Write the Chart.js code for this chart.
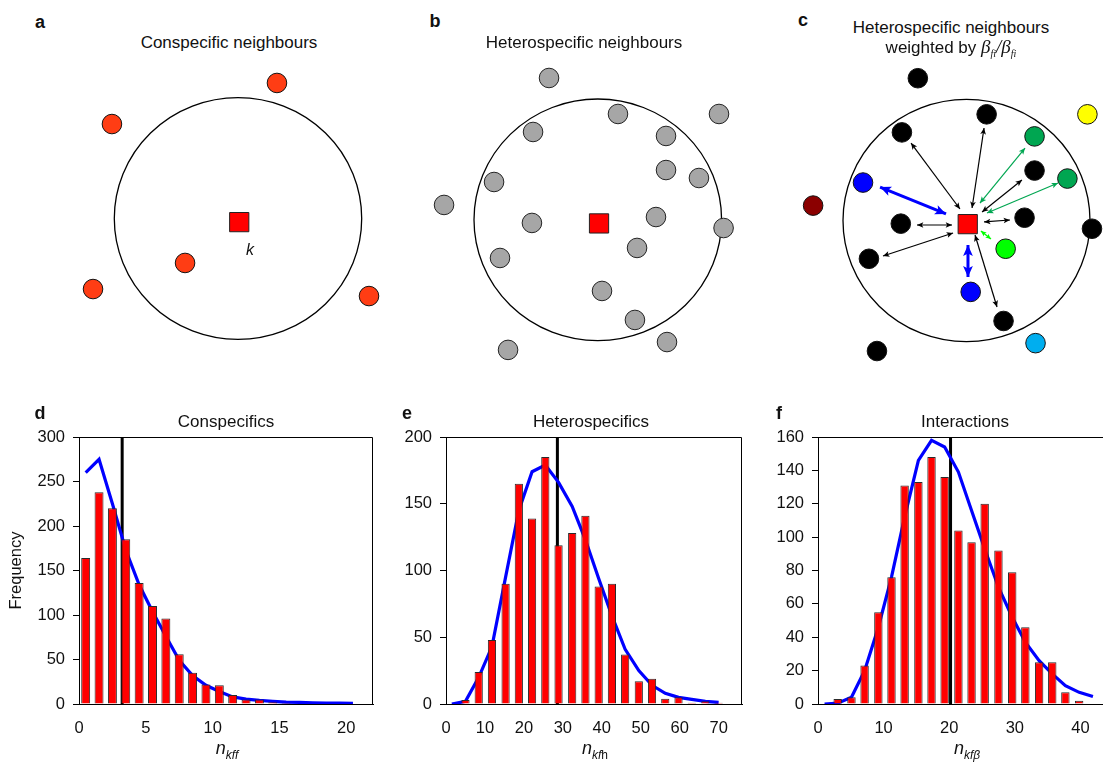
<!DOCTYPE html>
<html>
<head>
<meta charset="utf-8">
<script src="https://cdn.jsdelivr.net/npm/chart.js@4.4.1/dist/chart.umd.min.js"></script>
<style>
html,body{margin:0;padding:0;background:#fff;overflow:hidden;}
body{width:1103px;height:764px;position:relative;font-family:"Liberation Sans",Arial,sans-serif;color:#111;}
canvas{position:absolute;}
.t{position:absolute;transform:translate(-50%,-50%);white-space:nowrap;font-size:17px;line-height:1;}
.lt{position:absolute;transform:translate(-50%,-50%);font-weight:bold;font-size:18px;line-height:1;}
.ax{position:absolute;transform:translate(-50%,-50%);white-space:nowrap;font-size:18px;line-height:1;}
.ax sub{font-size:12px;vertical-align:-5px;}
.beta{font-family:"Liberation Serif","DejaVu Serif",serif;font-style:italic;font-size:19px;}
.beta sub{font-size:10px;vertical-align:-4px;}
</style>
</head>
<body>
<canvas id="pa" width="420" height="310" style="left:0;top:60px"></canvas>
<canvas id="pb" width="400" height="310" style="left:360px;top:60px"></canvas>
<canvas id="pc" width="379" height="310" style="left:724px;top:60px"></canvas>
<canvas id="pd" width="376" height="364" style="left:0;top:400px"></canvas>
<canvas id="pe" width="368" height="364" style="left:376px;top:400px"></canvas>
<canvas id="pf" width="368" height="364" style="left:744px;top:400px"></canvas>

<div class="lt" style="left:40px;top:22px">a</div>
<div class="lt" style="left:435px;top:21px">b</div>
<div class="lt" style="left:803px;top:20px">c</div>
<div class="lt" style="left:40px;top:413px">d</div>
<div class="lt" style="left:407px;top:413px">e</div>
<div class="lt" style="left:779px;top:413px">f</div>

<div class="t" style="left:229px;top:42px">Conspecific neighbours</div>
<div class="t" style="left:584px;top:42px">Heterospecific neighbours</div>
<div class="t" style="left:951px;top:27px">Heterospecific neighbours</div>
<div class="t" style="left:951px;top:48px">weighted by <span class="beta">β<sub>fi</sub>/β<sub>fi</sub></span></div>
<div class="t" style="left:250px;top:250px;font-style:italic;font-size:16px">k</div>

<div class="t" style="left:226px;top:421px">Conspecifics</div>
<div class="t" style="left:591px;top:421px">Heterospecifics</div>
<div class="t" style="left:965px;top:421px">Interactions</div>

<div class="ax" style="left:227px;top:750px"><i>n</i><sub><i>kff</i></sub></div>
<div class="ax" style="left:595px;top:750px"><i>n</i><sub><i>kf</i>h</sub></div>
<div class="ax" style="left:967px;top:750px"><i>n</i><sub><i>kfβ</i></sub></div>

<script>
// ---- neighbourhood diagrams (units: neighbourhood radius = 10) ----
const ringR = 10;
const focalX = [0.1];
const focalY = [-0.3];
// a: conspecific neighbours
const conX = [3.15, -10.19, -4.28, -11.72, 10.59];
const conY = [11.22, 7.82, -3.68, -5.84, -6.42];
// b, c: heterospecific neighbours (same trees, c coloured by species)
const hetX = [-3.94, 1.63, 9.79, -5.23, 5.51, 5.51, 8.17, -8.38, -12.42, -5.32, 4.70, 10.16, 3.17, -7.90, 0.34, 3.00, 5.59, -7.25];
const hetY = [11.74, 8.76, 8.76, 7.27, 6.94, 4.12, 3.46, 3.13, 1.23, -0.26, 0.23, -0.68, -2.33, -3.16, -5.89, -8.29, -10.12, -10.77];
const hetSpecies = ['k','k','y','k','g','k','g','b','r','k','k','k','l','k','b','k','c','k'];
// c: interaction arrows (ends)
const arrX1 = [-4.49, 1.42, 4.49, -4.01, -6.76, 1.42, 0.69, 1.09, 1.66, 1.17, -7.00, 0.12];
const arrY1 = [6.39, 7.63, 3.34, -0.37, -2.93, -0.12, -1.20, 1.44, 0.62, -0.87, 2.76, -2.02];
const arrX2 = [-0.53, 0.45, 1.26, -1.17, -1.09, 3.52, 2.47, 4.74, 7.41, 1.98, -1.66, 0.12];
const arrY2 = [0.95, 1.03, 0.70, -0.37, -1.03, 0.04, -7.14, 5.98, 3.09, -1.53, 0.54, -4.66];
const arrKind = ['k','k','k','k','k','k','k','g','g','l','b','b'];

// ---- histograms ----
const dBins = [0.5,1.5,2.5,3.5,4.5,5.5,6.5,7.5,8.5,9.5,10.5,11.5,12.5,13.5,14.5,15.5];
const dFreq = [164,238,220,185,136,110,96,56,35,22,21,10,5,5,2,1];
const dFitX = [0.5,1.5,2.5,3.5,4.5,5.5,6.5,7.5,8.5,9.5,10.5,11.5,12.5,13.5,14.5,15.5,16.5,17.5,18.5,19.5,20.5];
const dFit = [260,275,225,173,134,104,76,49,32,21,14,8,5.5,4,3,2.2,1.8,1.4,1.1,0.9,0.7];
const dMean = 3.23;

const eBins = [5.0,8.4,11.8,15.3,18.7,22.1,25.5,28.9,32.4,35.8,39.2,42.6,46.0,49.5,52.9,56.3,59.7,63.1,66.6,70.0];
const eFreq = [3,24,48,90,165,139,185,119,128,141,88,90,37,17,19,4,5,1,2,1];
const eFitX = [1.5,5.0,8.4,11.8,15.3,18.7,22.1,25.5,28.9,32.4,35.8,39.2,42.6,46.0,49.5,52.9,56.3,59.7,63.1,66.6,70.0];
const eFit = [0,2,20,43,95,145,174,179,166,148,123,94,66,41,25,14,8,5,3.5,2,1.2];
const eMean = 28.6;

const fBins = [3.0,5.1,7.1,9.2,11.2,13.2,15.3,17.3,19.3,21.4,23.4,25.4,27.5,29.6,31.6,33.7,35.7,37.7,39.8];
const fFreq = [3,4,23,55,76,131,133,148,136,104,97,120,92,79,46,25,25,7,2];
const fFitX = [1.0,3.0,5.1,7.1,9.2,11.2,13.2,15.3,17.3,19.3,21.4,23.4,25.4,27.5,29.6,31.6,33.7,35.7,37.7,39.8,41.9];
const fFit = [0,0.5,4,20,46,76,112,146,158,154,139,116,93,70,52,37,26,18,11,7,4.5];
const fMean = 20.2;

const speciesColor = {k:'#000000', y:'#ffff00', g:'#00a651', b:'#0000ff', r:'#8b0000', l:'#00ff00', c:'#00aeef'};
const arrowStyle = {
  k:{color:'#000000', width:1.2, head:7},
  g:{color:'#00a651', width:1.2, head:7},
  l:{color:'#00ff00', width:1.4, head:6},
  b:{color:'#0000ff', width:3, head:12}
};

const font = {family:'"Liberation Sans", Arial, sans-serif', size:16.5};

const ring = {
  id:'ring',
  beforeDatasetsDraw(c){
    const x = c.scales.x, y = c.scales.y, ctx = c.ctx;
    const cx = x.getPixelForValue(0), cy = y.getPixelForValue(0);
    const rx = x.getPixelForValue(ringR) - cx, ry = cy - y.getPixelForValue(ringR);
    ctx.save();
    ctx.strokeStyle = '#000'; ctx.lineWidth = 1.3;
    ctx.beginPath(); ctx.ellipse(cx, cy, rx, ry, 0, 0, Math.PI*2); ctx.stroke();
    ctx.restore();
  }
};

function head(ctx, fx, fy, tx, ty, s, col){
  const ang = Math.atan2(ty - fy, tx - fx);
  ctx.beginPath();
  ctx.moveTo(tx, ty);
  ctx.lineTo(tx - s*Math.cos(ang - 0.42), ty - s*Math.sin(ang - 0.42));
  ctx.lineTo(tx - s*0.7*Math.cos(ang), ty - s*0.7*Math.sin(ang));
  ctx.lineTo(tx - s*Math.cos(ang + 0.42), ty - s*Math.sin(ang + 0.42));
  ctx.closePath();
  ctx.fillStyle = col; ctx.fill();
}
const arrowHeads = {
  id:'arrowHeads',
  afterDatasetsDraw(c){
    const ctx = c.ctx;
    c.data.datasets.forEach((ds, i) => {
      if(!ds.headSize) return;
      const p = c.getDatasetMeta(i).data;
      ctx.save();
      head(ctx, p[1].x, p[1].y, p[0].x, p[0].y, ds.headSize, ds.borderColor);
      head(ctx, p[0].x, p[0].y, p[1].x, p[1].y, ds.headSize, ds.borderColor);
      ctx.restore();
    });
  }
};

// geometry of each diagram on the page: ring centre (canvas px) and ring radii (px)
function diagram(id, g, datasets, plugins){
  const sx = g.rx / ringR, sy = g.ry / ringR;
  return new Chart(document.getElementById(id), {
    type:'scatter',
    data:{datasets},
    options:{
      responsive:false, animation:false,
      layout:{padding:0, autoPadding:false},
      plugins:{legend:{display:false}, tooltip:{enabled:false}},
      scales:{
        x:{display:false, min:-g.cx/sx, max:(g.w - g.cx)/sx},
        y:{display:false, min:-(g.h - g.cy)/sy, max:g.cy/sy}
      }
    },
    plugins:[ring].concat(plugins || [])
  });
}
function pts(xs, ys){ return xs.map((x, i) => ({x, y:ys[i]})); }
function focalSet(){
  return {data:pts(focalX, focalY), pointStyle:'rect', pointRadius:13.6, backgroundColor:'#ff0000', borderColor:'#222', borderWidth:1, clip:false, order:0};
}

diagram('pa', {cx:238, cy:158.5, rx:123.7, ry:120.8, w:420, h:310}, [
  focalSet(),
  {data:pts(conX, conY), pointRadius:9.8, backgroundColor:'#ff3d14', borderColor:'#111', borderWidth:1, clip:false, order:1}
]);

diagram('pb', {cx:237.8, cy:159.8, rx:123.8, ry:120.8, w:400, h:310}, [
  focalSet(),
  {data:pts(hetX, hetY), pointRadius:9.8, backgroundColor:'#a6a6a6', borderColor:'#222', borderWidth:1, clip:false, order:1}
]);

const arrowSets = arrKind.map((k, i) => ({
  data:[{x:arrX1[i], y:arrY1[i]}, {x:arrX2[i], y:arrY2[i]}],
  showLine:true, pointRadius:0, borderColor:arrowStyle[k].color, borderWidth:arrowStyle[k].width,
  headSize:arrowStyle[k].head, clip:false, order:2
}));
diagram('pc', {cx:242.5, cy:160.5, rx:123.5, ry:121.2, w:379, h:310}, [
  focalSet(),
  {data:pts(hetX, hetY), pointRadius:9.8, backgroundColor:hetSpecies.map(s => speciesColor[s]), borderColor:'#111', borderWidth:1, clip:false, order:1}
].concat(arrowSets), [arrowHeads]);

// ---- histogram panels ----
const frame = {
  id:'frame',
  afterDraw(c){
    const a = c.chartArea, ctx = c.ctx;
    ctx.save();
    ctx.strokeStyle = '#000'; ctx.lineWidth = 1;
    ctx.beginPath();
    ctx.moveTo(a.left, Math.round(a.top) + 0.5);
    ctx.lineTo(Math.round(a.right) - 0.5, Math.round(a.top) + 0.5);
    ctx.lineTo(Math.round(a.right) - 0.5, a.bottom);
    ctx.stroke();
    ctx.restore();
  }
};

function hist(id, bins, freq, fitX, fit, mean, o){
  return new Chart(document.getElementById(id), {
    type:'bar',
    data:{datasets:[
      {type:'bar', data:pts(bins, freq), backgroundColor:'#ff0000', borderColor:'#2a2a2a', borderWidth:1,
       barPercentage:1, categoryPercentage:o.barFrac, order:0},
      {type:'line', data:pts(fitX, fit), borderColor:'#0000ff', borderWidth:3.2, pointRadius:0, tension:0, order:1},
      {type:'line', data:[{x:mean, y:0}, {x:mean, y:o.ymax}], borderColor:'#000', borderWidth:3, pointRadius:0, order:2}
    ]},
    options:{
      responsive:false, animation:false,
      layout:{padding:{top:37, right:o.padR, left:0, bottom:0}, autoPadding:false},
      plugins:{legend:{display:false}, tooltip:{enabled:false}},
      scales:{
        x:{type:'linear', min:0, max:o.xmax, offset:false,
           grid:{display:false, drawTicks:false, offset:false},
           border:{display:true, color:'#000', width:1},
           ticks:{stepSize:o.xstep, includeBounds:false, padding:15, color:'#111', font, maxRotation:0},
           afterFit(s){ s.height = 60; }},
        y:{min:0, max:o.ymax,
           grid:{drawOnChartArea:false, drawTicks:true, tickLength:6, color:'#000'},
           border:{display:true, color:'#000', width:1},
           ticks:{stepSize:o.ystep, padding:8, color:'#111', font},
           title:{display:!!o.ytitle, text:o.ytitle || '', color:'#111', font, padding:{top:7, bottom:0}},
           afterFit(s){ s.width = o.yw; }}
      }
    },
    plugins:[frame]
  });
}

hist('pd', dBins, dFreq, dFitX, dFit, dMean, {xmax:22, xstep:5, ymax:300, ystep:50, barFrac:0.67, yw:79, padR:3, ytitle:'Frequency'});
hist('pe', eBins, eFreq, eFitX, eFit, eMean, {xmax:76, xstep:10, ymax:200, ystep:50, barFrac:0.62, yw:70, padR:2});
hist('pf', fBins, fFreq, fFitX, fFit, fMean, {xmax:44.5, xstep:10, ymax:160, ystep:20, barFrac:0.64, yw:74, padR:2});
</script>
</body>
</html>
